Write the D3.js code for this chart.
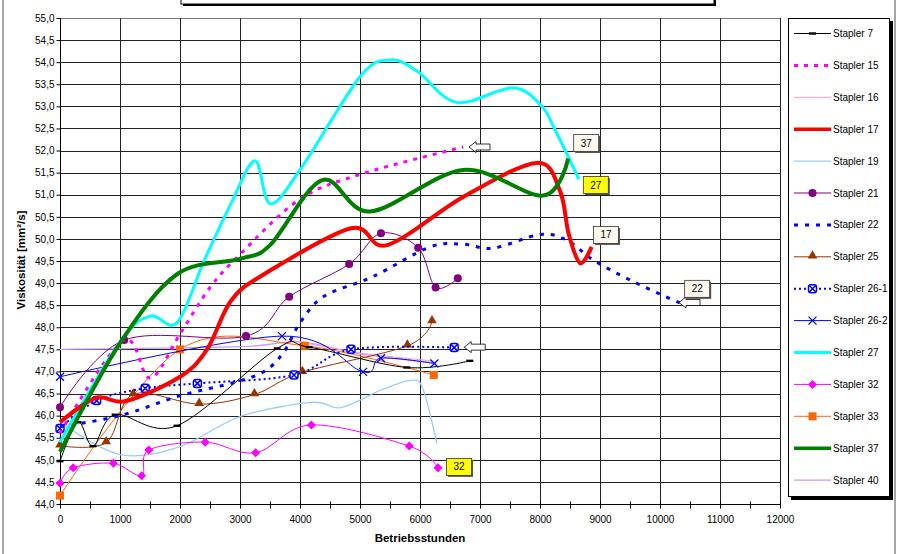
<!DOCTYPE html>
<html>
<head>
<meta charset="utf-8">
<script src="https://cdn.jsdelivr.net/npm/d3@7"></script>
<style>
  body { margin: 0; background: #fff; }
  text { font-family: Arial, "Liberation Sans", sans-serif; }
</style>
</head>
<body>
<div id="chart"></div>
<script>
// axis ticks
const yTicks = d3.range(44, 55.01, 0.5)
const xTicks = d3.range(0, 12001, 1000)

// series values: [Betriebsstunden, Viskosität]
const stapler7 = [[0, 44.97], [300, 45.85], [550, 45.31], [920, 46.02], [1950, 45.77], [3620, 47.52], [4150, 47.55], [5780, 47.09], [6830, 47.24]]
const stapler15 = [[0, 45.6], [1050, 47.7], [1500, 46.85], [2000, 47.85], [2500, 48.9], [3000, 49.65], [4000, 50.9], [5050, 51.48], [6720, 52.08]]
const stapler16 = [[3800, 47.72], [5000, 47.42], [6200, 47.24]]
const stapler17 = [[0, 45.85], [600, 46.4], [1100, 46.33], [2000, 46.88], [2450, 47.5], [2850, 48.6], [3400, 49.2], [4850, 50.24], [5450, 49.86], [6720, 50.95], [7940, 51.72], [8330, 51.1], [8480, 50.1], [8670, 49.45], [8860, 49.82]]
const stapler19 = [[0, 45.85], [1000, 45.12], [2000, 45.3], [3000, 45.98], [4200, 46.3], [4680, 46.18], [5350, 46.58], [5850, 46.8], [6050, 46.6], [6280, 45.37]]
const stapler21 = [[0, 46.19], [1070, 47.71], [3100, 47.8], [3820, 48.69], [4820, 49.43], [5350, 50.13], [5970, 49.8], [6260, 48.9], [6630, 49.11]]
const stapler22 = [[0, 45.75], [1000, 46.0], [2000, 46.45], [2900, 46.75], [3400, 47.0], [3720, 47.42], [4000, 48.1], [4400, 48.7], [5220, 49.15], [6170, 49.82], [6720, 49.88], [7220, 49.79], [8000, 50.1], [8450, 49.97], [8890, 49.52], [9560, 49.03], [10330, 48.55]]
const stapler25 = [[0, 45.32], [770, 45.39], [1220, 46.48], [2320, 46.26], [3240, 46.48], [4040, 46.98], [5790, 47.58], [6200, 48.13]]
const stapler26_1 = [[0, 45.71], [610, 46.34], [1420, 46.62], [2290, 46.73], [3900, 46.92], [4850, 47.5], [6570, 47.54]]
const stapler26_2 = [[0, 46.88], [3700, 47.8], [5050, 46.99], [5350, 47.3], [6240, 47.18]]
const stapler27 = [[0, 45.4], [1000, 47.67], [1500, 48.25], [1950, 48.1], [2400, 49.5], [2850, 50.8], [3250, 51.77], [3500, 50.8], [4000, 51.56], [5000, 53.67], [5500, 54.05], [5950, 53.8], [6610, 53.09], [7550, 53.42], [8030, 53.0], [8250, 52.47], [8650, 51.35]]
const stapler32 = [[0, 44.47], [220, 44.82], [890, 44.92], [1360, 44.64], [1480, 45.22], [2420, 45.4], [3260, 45.16], [4190, 45.79], [5820, 45.31], [6300, 44.82]]
const stapler33 = [[0, 44.19], [2000, 47.5], [4080, 47.58], [6230, 46.92]]
const stapler37 = [[0, 45.18], [1000, 47.64], [1950, 49.2], [3000, 49.55], [3500, 49.86], [4370, 51.33], [5170, 50.62], [6720, 51.56], [8050, 50.98], [8470, 51.82]]
const stapler40 = [[0, 47.5], [3000, 47.56], [4000, 47.67], [5000, 47.4], [6200, 47.2]]

const seriesNames = ["Stapler 7", "Stapler 15", "Stapler 16", "Stapler 17", "Stapler 19", "Stapler 21", "Stapler 22", "Stapler 25",
    "Stapler 26-1", "Stapler 26-2", "Stapler 27", "Stapler 32", "Stapler 33", "Stapler 37", "Stapler 40"]
const seriesData = [stapler7, stapler15, stapler16, stapler17, stapler19, stapler21, stapler22, stapler25,
    stapler26_1, stapler26_2, stapler27, stapler32, stapler33, stapler37, stapler40]

// callouts and arrows at the line ends
const calloutText = ["37", "27", "17", "22", "32"]
const calloutPos = [[8770, 52.17], [8930, 51.22], [9100, 50.09], [10620, 48.87], [6650, 44.84]]
const calloutYellow = [false, true, false, false, true]
const arrowPos = [[6800, 52.08], [6720, 47.55], [10300, 48.56]]

// line styles for each series
const styles = [
    { color: "#000000", width: 1, dash: null, marker: "dash" },
    { color: "#FF00FF", width: 3, dash: "4,6", marker: null },
    { color: "#FF99CC", width: 1, dash: null, marker: null },
    { color: "#FF0000", width: 4, dash: null, marker: null },
    { color: "#99CCFF", width: 1.3, dash: null, marker: null },
    { color: "#800080", width: 1, dash: null, marker: "circle" },
    { color: "#0000FF", width: 3, dash: "4,7", marker: null },
    { color: "#993300", width: 1, dash: null, marker: "triangle" },
    { color: "#0000FF", width: 2, dash: "2,3", marker: "xcircle" },
    { color: "#0000FF", width: 1, dash: null, marker: "x" },
    { color: "#00FFFF", width: 3, dash: null, marker: null },
    { color: "#FF00FF", width: 1, dash: null, marker: "diamond" },
    { color: "#FF6600", width: 1, dash: null, marker: "square" },
    { color: "#008000", width: 4, dash: null, marker: null },
    { color: "#CC99FF", width: 1.3, dash: null, marker: null }
]

const width = 900
const height = 554

const svg = d3.select("#chart")
    .append("svg")
    .attr("width", width)
    .attr("height", height)

const x = d3.scaleLinear().domain([0, 12000]).range([60, 780])
const y = d3.scaleLinear().domain([44, 55]).range([504, 18])

// page border + title box stub
svg.append("line").attr("x1", 3).attr("x2", 3).attr("y1", 0).attr("y2", height).style("stroke", "#888").style("stroke-width", 1.5)
svg.append("line").attr("x1", 895).attr("x2", 895).attr("y1", 0).attr("y2", height).style("stroke", "#888").style("stroke-width", 1.5)
svg.append("rect").attr("x", 183).attr("y", -20).attr("width", 533).attr("height", 26).style("fill", "#000")
svg.append("rect").attr("x", 181).attr("y", -20).attr("width", 533).attr("height", 24).style("fill", "#fff").style("stroke", "#000").style("stroke-width", 1)

// grid
svg.append("g")
    .selectAll("line")
    .data(yTicks)
    .enter()
    .append("line")
    .attr("x1", x(0))
    .attr("x2", x(12000))
    .attr("y1", d => Math.round(y(d)) + 0.5)
    .attr("y2", d => Math.round(y(d)) + 0.5)
    .style("stroke", (d, i) => i == yTicks.length - 1 ? "#777" : "#222")
    .style("stroke-width", 1)

svg.append("g")
    .selectAll("line")
    .data(xTicks.slice(1))
    .enter()
    .append("line")
    .attr("x1", d => Math.round(x(d)) + 0.5)
    .attr("x2", d => Math.round(x(d)) + 0.5)
    .attr("y1", y(55))
    .attr("y2", y(44))
    .style("stroke", "#222")
    .style("stroke-width", 1)

// axes
const yAxis = d3.axisLeft(y).tickValues(yTicks).tickSize(4).tickFormat(d => d3.format(".1f")(d).replace(".", ","))
const gy = svg.append("g").attr("transform", "translate(60.5,0)").call(yAxis)
gy.selectAll("text").style("font-size", "10px").attr("x", -6)
gy.select(".domain").attr("d", "M0," + y(55) + "V" + (y(44) + 0.5))

const xAxis = d3.axisBottom(x).tickValues(d3.range(0, 12001, 500)).tickSize(4)
    .tickFormat(d => d % 1000 == 0 ? d : "")
const gx = svg.append("g").attr("transform", "translate(0," + (y(44) + 0.5) + ")").call(xAxis)
gx.selectAll("text").style("font-size", "10px").attr("y", 11)
gx.selectAll(".tick line").attr("y1", -3)
gx.select(".domain").attr("d", "M60,0H780")

svg.append("text")
    .attr("x", 420)
    .attr("y", 542)
    .text("Betriebsstunden")
    .style("font-size", "11.5px")
    .style("font-weight", "bold")
    .style("text-anchor", "middle")

svg.append("text")
    .attr("transform", "translate(25,260) rotate(-90)")
    .text("Viskosität [mm²/s]")
    .style("font-size", "11.5px")
    .style("font-weight", "bold")
    .style("text-anchor", "middle")

// lines
const line = d3.line()
    .x(d => x(d[0]))
    .y(d => y(d[1]))
    .curve(d3.curveCardinal.tension(0))

const drawOrder = [14, 2, 4, 12, 7, 0, 9, 8, 5, 11, 6, 1, 10, 3, 13]

function drawMarker(g, type, color, cx, cy) {
    if (type == "circle") {
        g.append("circle").attr("cx", cx).attr("cy", cy).attr("r", 4).style("fill", color)
    } else if (type == "triangle") {
        g.append("path").attr("d", d3.symbol(d3.symbolTriangle, 40)()).attr("transform", "translate(" + cx + "," + (cy - 1) + ")").style("fill", color)
    } else if (type == "diamond") {
        g.append("path").attr("d", "M0,-4.5L4.5,0L0,4.5L-4.5,0Z").attr("transform", "translate(" + cx + "," + cy + ")").style("fill", color)
    } else if (type == "square") {
        g.append("rect").attr("x", cx - 4).attr("y", cy - 4).attr("width", 8).attr("height", 8).style("fill", color)
    } else if (type == "dash") {
        g.append("rect").attr("x", cx - 3.5).attr("y", cy - 1.2).attr("width", 7).attr("height", 2.4).style("fill", color)
    } else if (type == "x") {
        g.append("path").attr("d", "M-4,-4L4,4M-4,4L4,-4").attr("transform", "translate(" + cx + "," + cy + ")")
            .style("stroke", color).style("stroke-width", 1.3).style("fill", "none")
    } else if (type == "xcircle") {
        g.append("rect").attr("x", cx - 4).attr("y", cy - 4).attr("width", 8).attr("height", 8).attr("rx", 2.5)
            .style("fill", "#fff").style("stroke", color).style("stroke-width", 1.5)
        g.append("path").attr("d", "M-3,-3L3,3M-3,3L3,-3").attr("transform", "translate(" + cx + "," + cy + ")")
            .style("stroke", color).style("stroke-width", 1.5).style("fill", "none")
    }
}

const plot = svg.append("g")
drawOrder.forEach(i => {
    const s = styles[i]
    plot.append("path")
        .datum(seriesData[i])
        .attr("d", line)
        .style("fill", "none")
        .style("stroke", s.color)
        .style("stroke-width", s.width)
        .style("stroke-dasharray", s.dash)
    if (s.marker) {
        seriesData[i].forEach(d => drawMarker(plot, s.marker, s.color, x(d[0]), y(d[1])))
    }
})

// arrows
svg.append("g")
    .selectAll("path")
    .data(arrowPos)
    .enter()
    .append("path")
    .attr("d", "M0,0L7,-5.5L7,-3L21,-3L21,3L7,3L7,5.5Z")
    .attr("transform", d => "translate(" + (x(d[0]) + 1) + "," + y(d[1]) + ")")
    .style("fill", "#fff")
    .style("stroke", "#000")
    .style("stroke-width", 0.8)

// callout boxes
const callouts = svg.append("g")
calloutText.forEach((t, i) => {
    const cx = x(calloutPos[i][0])
    const cy = y(calloutPos[i][1])
    callouts.append("rect").attr("x", cx - 11).attr("y", cy - 7).attr("width", 25).attr("height", 17).style("fill", "#555")
    callouts.append("rect").attr("x", cx - 12.5).attr("y", cy - 8.5).attr("width", 25).attr("height", 17)
        .style("fill", calloutYellow[i] ? "#FFFF00" : "#FFF8EE").style("stroke", "#333").style("stroke-width", 0.8)
    callouts.append("text").attr("x", cx).attr("y", cy + 3.5).text(t)
        .style("font-size", "10px").style("text-anchor", "middle")
})

// legend
const legend = svg.append("g")
legend.append("rect").attr("x", 791).attr("y", 21).attr("width", 102).attr("height", 479).style("fill", "#000")
legend.append("rect").attr("x", 788.5).attr("y", 18.5).attr("width", 101).attr("height", 478)
    .style("fill", "#fff").style("stroke", "#000").style("stroke-width", 1)

seriesNames.forEach((name, i) => {
    const s = styles[i]
    const ly = 33.5 + i * 31.9
    legend.append("line")
        .attr("x1", 794).attr("x2", 831).attr("y1", ly).attr("y2", ly)
        .style("stroke", s.color)
        .style("stroke-width", Math.min(s.width, 3.5))
        .style("stroke-dasharray", s.dash)
    if (s.marker) drawMarker(legend, s.marker, s.color, 812.5, ly)
    legend.append("text")
        .attr("x", 833)
        .attr("y", ly + 3.5)
        .text(name)
        .style("font-size", "10px")
})
</script>
</body>
</html>
